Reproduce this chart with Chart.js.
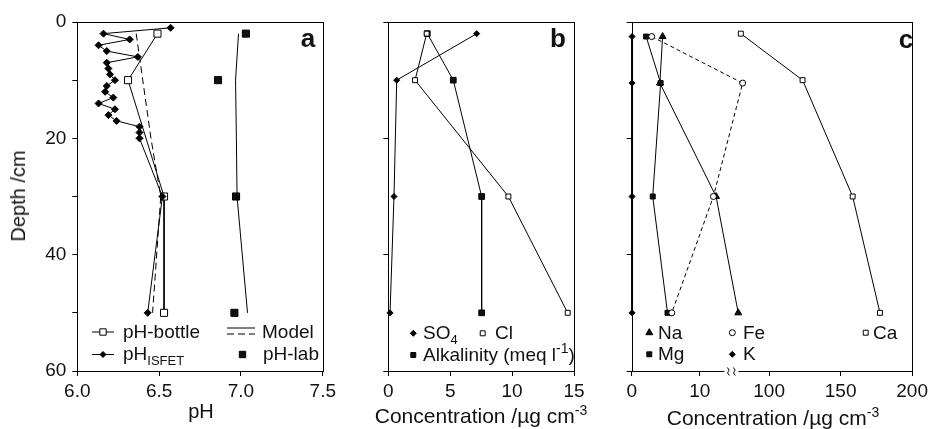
<!DOCTYPE html>
<html>
<head>
<meta charset="utf-8">
<script src="https://cdn.jsdelivr.net/npm/chart.js@4.4.1/dist/chart.umd.min.js"></script>
<style>
body{margin:0;background:#fff;width:932px;height:429px;position:relative;overflow:hidden;font-family:"Liberation Sans",Arial,sans-serif;color:#111}
canvas{position:absolute;top:0}
.t{position:absolute;white-space:nowrap;font-size:19px;line-height:22px}
.c{transform:translateX(-50%)}
.ttl{font-size:20px}
.ttl2{font-size:21px}
.let{font-size:26px;font-weight:bold;line-height:26px}
sub{font-size:13px;vertical-align:-5px;line-height:0}
sup{font-size:14px;vertical-align:8px;line-height:0}
</style>
</head>
<body>
<canvas id="ca" width="340" height="429" style="left:0"></canvas>
<canvas id="cb" width="260" height="429" style="left:330px"></canvas>
<canvas id="cc" width="352" height="429" style="left:580px"></canvas>

<div class="t let c" style="left:308px;top:25px">a</div>
<div class="t let c" style="left:558px;top:25px">b</div>
<div class="t let c" style="left:906px;top:26px">c</div>

<div class="t ttl" style="left:18px;top:196px;transform:translate(-50%,-50%) rotate(-90deg)">Depth /cm</div>
<div class="t ttl c" style="left:201px;top:400px">pH</div>
<div class="t ttl2 c" style="left:481px;top:405px">Concentration /µg cm<sup>-3</sup></div>
<div class="t ttl2 c" style="left:773px;top:407px">Concentration /µg cm<sup>-3</sup></div>

<div class="t" style="left:123px;top:321px">pH-bottle</div>
<div class="t" style="left:262px;top:321px">Model</div>
<div class="t" style="left:123px;top:343px">pH<sub>ISFET</sub></div>
<div class="t" style="left:263px;top:343px">pH-lab</div>

<div class="t" style="left:423px;top:322px">SO<sub>4</sub></div>
<div class="t" style="left:495px;top:322px">Cl</div>
<div class="t" style="left:423px;top:344px">Alkalinity (meq l<sup>-1</sup>)</div>

<div class="t" style="left:658px;top:322px">Na</div>
<div class="t" style="left:743px;top:322px">Fe</div>
<div class="t" style="left:873px;top:322px">Ca</div>
<div class="t" style="left:658px;top:343px">Mg</div>
<div class="t" style="left:743px;top:343px">K</div>

<script>
// ---- panel a: pH profiles (depth in cm)
const isfetDepth = [1,2,3,4,5,6,7,8,9,10,11,12,13,14,15,16,17,18,19,20,30,50];
const isfetPH = [6.57,6.16,6.32,6.13,6.18,6.37,6.18,6.19,6.20,6.23,6.18,6.17,6.22,6.13,6.23,6.19,6.24,6.38,6.38,6.38,6.52,6.43];
const bottleDepth = [2,10,30,50];
const bottlePH = [6.49,6.31,6.53,6.53];
const labDepth = [2,10,30,50];
const labPH = [7.03,6.86,6.97,6.96];
const modelDepth = [2,10,20,30,50];
const modelSolid = [6.985,6.967,6.972,6.976,7.04];
const modelDashed = [6.36,6.40,6.45,6.51,6.46];

// ---- panel b
const bDepth = [2,10,30,50];
const so4 = [7.14,0.68,0.46,0.14];
const cl = [3.1,2.16,9.7,14.49];
const alkalinity = [3.15,5.25,7.54,7.54];

// ---- panel c (broken axis 0-15 | 75-200)
const cDepth = [2.5,10.5,30,50];
const caDepth = [2,10,30,50];
const na = [4.54,4.14,12.4,15.65];
const mg = [2.12,4.25,3.09,5.26];
const fe = [2.94,16.3,12.0,5.89];
const k = [0.05,0.05,0.05,0.05];
const ca = [80.2,123.4,158.4,177.5];

const depthTicks = [0,20,40,60];
const aTicks = [6.0,6.5,7.0,7.5];
const bTicks = [0,5,10,15];
const cTicks = [0,10,100,150,200];

// broken axis: low part keeps its units, high part compressed
const highStart = 20.19, highScale = 0.2101, breakAt = 14.64;
function cMap(v) { return v < 50 ? v : highStart + (v - 100) * highScale; }

const font = {family: '"Liberation Sans", Arial, sans-serif', size: 19};

function pts(xs, ys, f) {
  return xs.map((x, i) => ({x: f ? f(x) : x, y: ys[i]}));
}

function ser(data, style, radius, fill, extra) {
  return Object.assign({
    data: data, showLine: true, borderColor: '#000', borderWidth: 1,
    pointStyle: style, pointRadius: radius, pointBackgroundColor: fill,
    pointBorderColor: '#000', pointBorderWidth: 1, clip: false
  }, extra || {});
}

const frame = {
  id: 'frame',
  afterDraw(chart, args, opts) {
    const ctx = chart.ctx, a = chart.chartArea;
    ctx.save();
    ctx.strokeStyle = '#000';
    ctx.lineWidth = 1;
    ctx.strokeRect(Math.round(a.left) + 0.5, Math.round(a.top) + 0.5,
      Math.round(a.right) - Math.round(a.left), Math.round(a.bottom) - Math.round(a.top));
    if (opts.brk) {
      const x = chart.scales.x.getPixelForValue(breakAt), y = Math.round(a.bottom) + 0.5;
      ctx.fillStyle = '#fff';
      ctx.fillRect(x - 7, y - 2, 14, 4);
      ctx.beginPath();
      [x - 3, x + 3].forEach(sx => {
        ctx.moveTo(sx - 1, y - 4);
        ctx.quadraticCurveTo(sx + 2, y - 1, sx, y);
        ctx.quadraticCurveTo(sx - 2, y + 1, sx + 1, y + 4);
      });
      ctx.stroke();
    }
    const off = opts.off;
    (opts.items || []).forEach(it => {
      ctx.strokeStyle = '#000';
      ctx.lineWidth = 1;
      if (it.line) {
        it.line.forEach(l => {
          ctx.setLineDash(l.dash || []);
          ctx.beginPath();
          ctx.moveTo(l.x0 - off, l.y);
          ctx.lineTo(l.x1 - off, l.y);
          ctx.stroke();
        });
        ctx.setLineDash([]);
      }
      if (it.style) {
        ctx.fillStyle = it.fill;
        Chart.helpers.drawPoint(ctx, {pointStyle: it.style, radius: it.r, borderWidth: 1, rotation: 0}, it.x - off, it.y);
      }
    });
    ctx.restore();
  }
};

function panel(id, off, yWidth, rightPad, xOpts, yLabels, datasets, items, brk) {
  return new Chart(document.getElementById(id), {
    type: 'scatter',
    data: {datasets: datasets},
    plugins: [frame],
    options: {
      responsive: false, animation: false, devicePixelRatio: 1,
      layout: {padding: {top: 22, right: rightPad, left: 0, bottom: 0}},
      plugins: {legend: {display: false}, tooltip: {enabled: false}, frame: {off: off, items: items, brk: brk}},
      scales: {
        x: Object.assign({
          type: 'linear', position: 'bottom',
          grid: {drawOnChartArea: false, drawTicks: true, tickLength: 5, color: '#000'},
          border: {display: false},
          afterFit: s => { s.height = 58; }
        }, xOpts),
        y: {
          type: 'linear', reverse: true, min: 0, max: 60,
          afterBuildTicks: s => { s.ticks = (yLabels ? [0,10,20,30,40,50,60] : depthTicks).map(v => ({value: v})); },
          ticks: {font: font, color: '#111', padding: 6,
            callback: v => (yLabels && depthTicks.includes(v)) ? String(v) : ''},
          grid: {drawOnChartArea: false, drawTicks: true, tickLength: 5, color: '#000'},
          border: {display: false},
          afterFit: s => { s.width = yWidth; }
        }
      }
    }
  });
}

// panel a
panel('ca', 0, 77.3, 16.5, {
  min: 6, max: 7.5,
  afterBuildTicks: s => { s.ticks = aTicks.map(v => ({value: v})); },
  ticks: {font: font, color: '#111', padding: 4, callback: v => v.toFixed(1)}
}, true, [
  ser(pts(modelSolid, modelDepth), 'circle', 0, '#000'),
  ser(pts(modelDashed, modelDepth), 'circle', 0, '#000', {borderDash: [7, 4]}),
  ser(pts(isfetPH, isfetDepth), 'rectRot', 3.5, '#000'),
  ser(pts(bottlePH, bottleDepth), 'rect', 5, '#fff'),
  ser(pts(labPH, labDepth), 'rect', 5, '#111', {showLine: false})
], [
  {line: [{x0: 92, x1: 114, y: 332}], style: 'rect', r: 4.5, fill: '#fff', x: 103, y: 332},
  {line: [{x0: 92, x1: 114, y: 354.5}], style: 'rectRot', r: 3, fill: '#000', x: 103, y: 354.5},
  {line: [{x0: 227, x1: 255, y: 328}, {x0: 227, x1: 255, y: 334, dash: [7, 4]}]},
  {style: 'rect', r: 4.5, fill: '#111', x: 242.5, y: 354.5}
]);

// panel b
panel('cb', 330, 58.3, 16, {
  min: 0, max: 15,
  afterBuildTicks: s => { s.ticks = bTicks.map(v => ({value: v})); },
  ticks: {font: font, color: '#111', padding: 4}
}, false, [
  ser(pts(so4, bDepth), 'rectRot', 3, '#000'),
  ser(pts(cl, bDepth), 'rect', 3.5, '#fff'),
  ser(pts(alkalinity, bDepth), 'rect', 4, '#111')
], [
  {style: 'rectRot', r: 3, fill: '#000', x: 413.3, y: 333.3},
  {style: 'rect', r: 3.5, fill: '#fff', x: 482.7, y: 333.3},
  {style: 'rect', r: 3.5, fill: '#111', x: 413.3, y: 355}
]);

// panel c
panel('cc', 580, 51.7, 16, {
  min: 0, max: cMap(200),
  afterBuildTicks: s => { s.ticks = cTicks.map(v => ({value: cMap(v)})); },
  ticks: {font: font, color: '#111', padding: 4, callback: (v, i) => String(cTicks[i])}
}, false, [
  ser(pts(k, cDepth), 'rectRot', 3, '#000', {borderWidth: 2}),
  ser(pts(fe, cDepth), 'circle', 3, '#fff', {borderDash: [4, 3]}),
  ser(pts(mg, cDepth), 'rect', 3.5, '#111'),
  ser(pts(na, cDepth), 'triangle', 4, '#111'),
  ser(pts(ca, caDepth, cMap), 'rect', 3.5, '#fff')
], [
  {style: 'triangle', r: 4, fill: '#111', x: 649.3, y: 332.7},
  {style: 'circle', r: 3, fill: '#fff', x: 732.3, y: 332.7},
  {style: 'rect', r: 3.5, fill: '#fff', x: 865.7, y: 332.7},
  {style: 'rect', r: 3.5, fill: '#111', x: 649.3, y: 354.3},
  {style: 'rectRot', r: 3, fill: '#000', x: 732.3, y: 354.3}
], true);
</script>
</body>
</html>
